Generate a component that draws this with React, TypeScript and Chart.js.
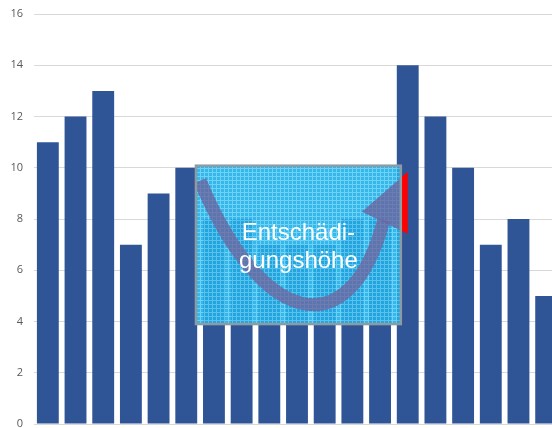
import React, { useEffect, useRef } from 'react';
import { Chart, registerables } from 'chart.js';

Chart.register(...registerables);

// ---- data ----
const categories = ['1', '2', '3', '4', '5', '6', '7', '8', '9', '10', '11', '12', '13', '14', '15', '16', '17', '18', '19'];
const values = [11, 12, 13, 7, 9, 10, 8, 8, 7, 7, 7, 8, 8, 14, 12, 10, 7, 8, 5];
const yTickValues = [0, 2, 4, 6, 8, 10, 12, 14, 16];
const boxTextLines = ['Entschädi-', 'gungshöhe'];

// annotation box, in data units (category index / value)
const boxXFrom = 5.35;
const boxXTo = 12.75;
const boxYFrom = 3.9;
const boxYTo = 10.08;

function makePattern(ctx: CanvasRenderingContext2D) {
  const c = document.createElement('canvas');
  c.width = 4;
  c.height = 4;
  const p = c.getContext('2d')!;
  p.fillStyle = '#1eb0e8';
  p.fillRect(0, 0, 4, 4);
  p.fillStyle = '#62ccf3';
  p.fillRect(0, 0, 4, 1);
  p.fillRect(0, 0, 1, 4);
  return ctx.createPattern(c, 'repeat');
}

const overlayPlugin = {
  id: 'overlayBox',
  afterDatasetsDraw(chart: any) {
    const { ctx, scales } = chart;
    const xs = scales.x;
    const ys = scales.y;
    const bx = xs.getPixelForValue(boxXFrom);
    const bx2 = xs.getPixelForValue(boxXTo);
    const by = ys.getPixelForValue(boxYTo);
    const by2 = ys.getPixelForValue(boxYFrom);
    const w = bx2 - bx;
    const h = by2 - by;
    const P = (fx: number, fy: number): [number, number] => [bx + fx * w, by + fy * h];

    const drawArrow = (color: string) => {
      const s = P(0.02, 0.095);
      const c1 = P(0.312, 1.006);
      const c2 = P(0.751, 1.165);
      const e = P(0.917, 0.342);
      ctx.save();
      ctx.strokeStyle = color;
      ctx.lineWidth = 13;
      ctx.lineCap = 'butt';
      ctx.beginPath();
      ctx.moveTo(s[0], s[1]);
      ctx.bezierCurveTo(c1[0], c1[1], c2[0], c2[1], e[0], e[1]);
      ctx.stroke();
      const h1 = P(0.81, 0.291);
      const h2 = P(1.034, 0.038);
      const h3 = P(1.034, 0.43);
      ctx.fillStyle = color;
      ctx.beginPath();
      ctx.moveTo(h1[0], h1[1]);
      ctx.lineTo(h2[0], h2[1]);
      ctx.lineTo(h3[0], h3[1]);
      ctx.closePath();
      ctx.fill();
      ctx.restore();
    };

    ctx.save();
    drawArrow('#ff0000');
    ctx.globalAlpha = 0.9;
    ctx.fillStyle = makePattern(ctx) || '#1eb0e8';
    ctx.fillRect(bx, by, w, h);
    ctx.globalAlpha = 1;
    ctx.save();
    ctx.beginPath();
    ctx.rect(bx, by, w, h);
    ctx.clip();
    drawArrow('rgba(110,100,160,0.7)');
    ctx.restore();
    ctx.strokeStyle = '#8c9ca4';
    ctx.lineWidth = 2.5;
    ctx.strokeRect(bx, by, w, h);
    ctx.fillStyle = '#ffffff';
    ctx.font = '24px "Liberation Sans", Arial, sans-serif';
    ctx.textAlign = 'center';
    ctx.textBaseline = 'alphabetic';
    const cx = bx + w / 2;
    ctx.fillText(boxTextLines[0], cx, by + 0.468 * h);
    ctx.fillText(boxTextLines[1], cx, by + 0.646 * h);
    ctx.restore();
  },
};

export default function App() {
  const ref = useRef<HTMLCanvasElement | null>(null);

  useEffect(() => {
    if (!ref.current) return;
    const chart = new Chart(ref.current, {
      type: 'bar',
      data: {
        labels: categories,
        datasets: [
          {
            data: values,
            backgroundColor: '#2f5597',
            borderWidth: 0,
            barPercentage: 0.79,
            categoryPercentage: 1.0,
          },
        ],
      },
      options: {
        responsive: false,
        animation: false,
        devicePixelRatio: 1,
        layout: { padding: { top: 14, bottom: 4, left: 0, right: 0 } },
        plugins: {
          legend: { display: false },
          tooltip: { enabled: false },
          title: { display: false },
        },
        scales: {
          x: {
            display: false,
            offset: true,
            grid: { display: false },
          },
          y: {
            min: 0,
            max: 16,
            afterFit: (s: any) => {
              s.width = 34;
              s.paddingTop = 0;
              s.paddingBottom = 0;
            },
            afterBuildTicks: (s: any) => {
              s.ticks = yTickValues.map((v) => ({ value: v }));
            },
            ticks: {
              color: '#595959',
              font: { size: 11, family: '"Open Sans", "Liberation Sans", sans-serif' },
              padding: 11,
            },
            grid: { color: '#d9d9d9', lineWidth: 1, drawTicks: false },
            border: { display: false },
          },
        },
      },
      plugins: [overlayPlugin],
    });
    return () => chart.destroy();
  }, []);

  return (
    <div style={{ position: 'fixed', left: 0, top: 0, width: 552, height: 428, overflow: 'hidden', background: '#fff' }}>
      <canvas ref={ref} width={560} height={428} style={{ display: 'block' }} />
    </div>
  );
}
